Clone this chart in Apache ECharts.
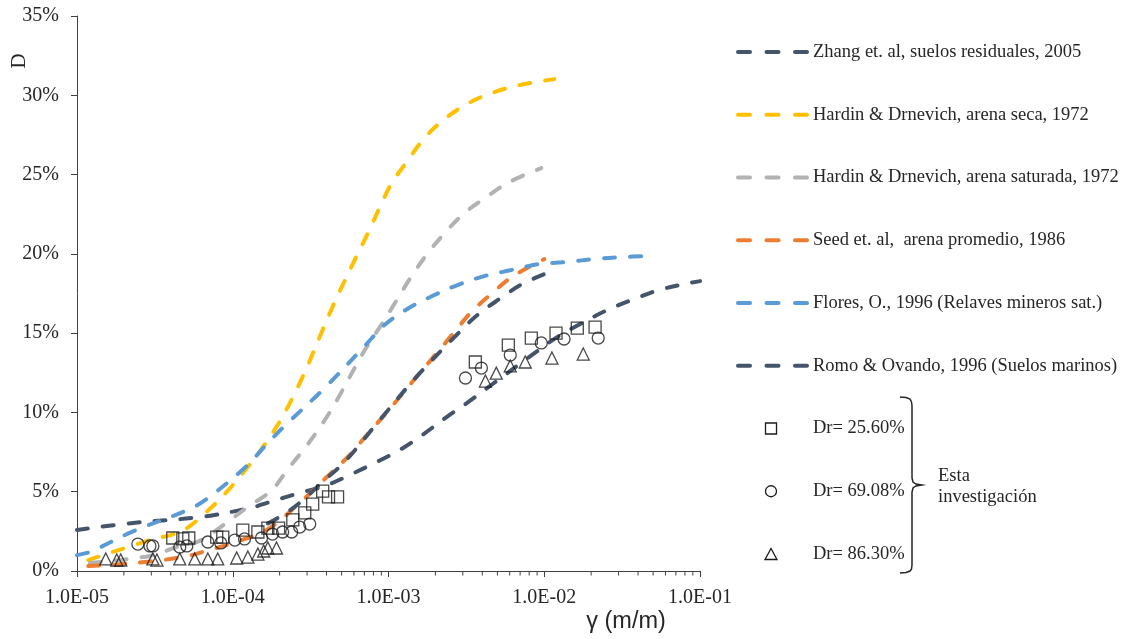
<!DOCTYPE html>
<html>
<head>
<meta charset="utf-8">
<script src="https://cdn.jsdelivr.net/npm/echarts@6/dist/echarts.min.js"></script>
<style>html,body{margin:0;padding:0;background:#fff}#c{width:1128px;height:639px}</style>
</head>
<body>
<div id="c"></div>
<script>
// ---- data (strain γ in m/m, damping D in %) ----
const zhangG = [1e-5, 2.29e-5, 6.14e-5, 1.29e-4, 1.73e-4, 2.69e-4, 3.89e-4, 5.62e-4, 8.13e-4, 1.18e-3, 1.65e-3, 2.36e-3, 3.26e-3, 4.57e-3, 8.02e-3, 1.21e-2, 1.75e-2, 2.54e-2, 3.78e-2, 5.46e-2, 8.50e-2, 1e-1];
const zhangD = [2.59, 3.03, 3.4, 3.97, 4.35, 4.92, 5.36, 6.05, 6.81, 7.63, 8.58, 9.71, 10.66, 11.73, 13.5, 14.75, 15.64, 16.46, 17.15, 17.72, 18.16, 18.28];

const secaG = [1.18e-5, 2.94e-5, 4.57e-5, 6.14e-5, 1.0e-4, 1.80e-4, 2.69e-4, 4.37e-4, 6.24e-4, 7.33e-4, 8.75e-4, 1.04e-3, 1.32e-3, 1.70e-3, 2.29e-3, 3.26e-3, 4.78e-3, 6.92e-3, 1.16e-2];
const secaD = [0.69, 1.95, 2.46, 3.34, 5.42, 8.70, 11.85, 16.65, 19.86, 21.25, 22.89, 24.4, 25.85, 27.3, 28.5, 29.5, 30.2, 30.64, 31.02];

const satG = [1.21e-5, 2.94e-5, 4.32e-5, 6.14e-5, 8.89e-5, 1.25e-4, 1.78e-4, 2.25e-4, 2.98e-4, 3.83e-4, 4.71e-4, 7.01e-4, 8.89e-4, 1.11e-3, 1.38e-3, 1.75e-3, 2.29e-3, 3.07e-3, 4.25e-3, 5.97e-3, 9.57e-3];
const satD = [0.5, 0.95, 1.5, 1.9, 2.96, 4.04, 5.1, 6.4, 7.9, 9.4, 10.85, 13.9, 15.45, 16.96, 18.47, 19.92, 21.3, 22.57, 23.58, 24.53, 25.41];

const seedG = [1.18e-5, 1.63e-5, 2.94e-5, 4.78e-5, 6.4e-5, 1.0e-4, 1.65e-4, 2.69e-4, 3.89e-4, 5.62e-4, 7.0e-4, 9.16e-4, 1.18e-3, 1.51e-3, 2.12e-3, 2.61e-3, 3.40e-3, 4.57e-3, 6.32e-3, 1.0e-2];
const seedD = [0.32, 0.38, 0.6, 0.88, 1.2, 1.77, 2.59, 4.29, 5.8, 7.3, 8.4, 9.7, 10.97, 12.23, 13.93, 15.0, 16.33, 17.47, 18.6, 19.67];

const floresG = [1e-5, 1.21e-5, 2.29e-5, 5.0e-5, 6.71e-5, 1.19e-4, 1.68e-4, 2.15e-4, 3.89e-4, 7.13e-4, 9.42e-4, 1.32e-3, 1.91e-3, 2.77e-3, 4.12e-3, 6.14e-3, 9.28e-3, 1.38e-2, 2.09e-2, 3.26e-2, 4.38e-2];
const floresD = [1.0, 1.2, 2.5, 3.8, 4.5, 6.5, 8.07, 9.14, 11.54, 14.25, 15.51, 16.52, 17.34, 18.03, 18.6, 18.98, 19.36, 19.48, 19.67, 19.8, 19.86];

const romoG = [1.68e-4, 2.15e-4, 2.69e-4, 3.89e-4, 5.22e-4, 8.89e-4, 1.53e-3, 2.73e-3, 3.72e-3, 5.15e-3, 7.23e-3, 1.08e-2];
const romoD = [3.0, 3.6, 4.3, 5.74, 6.87, 9.58, 12.3, 14.88, 16.14, 17.15, 18.1, 18.85];

const sqG = [4.12e-5, 4.78e-5, 5.22e-5, 7.89e-5, 8.63e-5, 1.16e-4, 1.45e-4, 1.68e-4, 1.97e-4, 2.43e-4, 2.90e-4, 3.26e-4, 3.78e-4, 4.12e-4, 4.71e-4, 3.61e-3, 5.88e-3, 8.26e-3, 1.19e-2, 1.63e-2, 2.12e-2];
const sqD = [2.08, 2.02, 2.08, 2.14, 2.14, 2.58, 2.46, 2.71, 2.71, 3.22, 3.66, 4.22, 5.04, 4.67, 4.67, 13.18, 14.25, 14.69, 15.0, 15.32, 15.38];

const ciG = [2.46e-5, 2.94e-5, 3.07e-5, 4.57e-5, 5.07e-5, 6.92e-5, 8.38e-5, 1.03e-4, 1.19e-4, 1.53e-4, 1.80e-4, 2.09e-4, 2.39e-4, 2.69e-4, 3.12e-4, 3.12e-3, 3.95e-3, 6.05e-3, 9.57e-3, 1.34e-2, 2.22e-2];
const ciD = [1.70, 1.58, 1.58, 1.51, 1.58, 1.83, 1.77, 1.95, 2.02, 2.08, 2.33, 2.46, 2.46, 2.77, 2.96, 12.17, 12.80, 13.62, 14.38, 14.63, 14.69];

const trG = [1.53e-5, 1.80e-5, 1.91e-5, 3.07e-5, 3.26e-5, 4.57e-5, 5.70e-5, 6.92e-5, 8.01e-5, 1.06e-4, 1.25e-4, 1.45e-4, 1.58e-4, 1.68e-4, 1.91e-4, 4.19e-3, 4.92e-3, 6.05e-3, 7.55e-3, 1.12e-2, 1.78e-2];
const trD = [0.76, 0.69, 0.69, 0.76, 0.69, 0.76, 0.76, 0.76, 0.76, 0.82, 0.88, 1.07, 1.26, 1.45, 1.45, 11.98, 12.48, 12.93, 13.18, 13.43, 13.68];

const xTickDecades = [1e-5, 1e-4, 1e-3, 1e-2];
const minorMultipliers = [2, 3, 4, 5, 6, 7, 8, 9];

const names = [
  'Zhang et. al, suelos residuales, 2005',
  'Hardin & Drnevich, arena seca, 1972',
  'Hardin & Drnevich, arena saturada, 1972',
  'Seed et. al,  arena promedio, 1986',
  'Flores, O., 1996 (Relaves mineros sat.)',
  'Romo & Ovando, 1996 (Suelos marinos)',
  'Dr= 25.60%',
  'Dr= 69.08%',
  'Dr= 86.30%'
];
const colors = ['#44546A', '#FFC000', '#B2B2B2', '#ED7D31', '#5B9BD5', '#44546A'];
const markerSymbols = ['rect', 'circle', 'triangle'];

// ---- build ----
const zip = (g, d) => g.map((v, i) => [v, d[i]]);
const minorTicks = [];
xTickDecades.forEach(d => minorMultipliers.forEach(m => minorTicks.push([m * d, 0])));

const SERIF = '"Liberation Serif", "Times New Roman", serif';
const AX = '#404040';
const TXT = '#262626';
const MK = '#1a1a1a';
const DASH = [11, 15];
const LW = 4;

function lineSeries(name, g, d, color) {
  return {
    name, type: 'line', data: zip(g, d), smooth: 0.35, showSymbol: false, symbol: 'none',
    lineStyle: { color, width: LW, type: DASH, cap: 'round' },
    itemStyle: { color }, z: 3, silent: true
  };
}
function scatterSeries(name, g, d, symbol, size) {
  return {
    name, type: 'scatter', data: zip(g, d), symbol, symbolSize: size,
    itemStyle: { color: 'rgba(255,255,255,0)', borderColor: MK, borderWidth: 1.3 },
    z: 4, silent: true
  };
}
const fmtX = v => {
  const e = Math.round(Math.log10(v));
  return '1.0E' + (e < 0 ? '-' : '+') + String(Math.abs(e)).padStart(2, '0');
};

// legend built as graphic (key layout)
const legendX = 736, legendTextX = 813, legendTop = 52, legendStep = 62.75;
const legendGraphics = [];
names.forEach((nm, i) => {
  const cy = legendTop + i * legendStep;
  if (i < 6) {
    [0, 28.5, 57].forEach(off => legendGraphics.push({
      type: 'line', silent: true,
      shape: { x1: legendX + 2 + off, y1: cy, x2: legendX + 14 + off, y2: cy },
      style: { stroke: colors[i], lineWidth: LW, lineCap: 'round' }
    }));
  } else {
    const sym = markerSymbols[i - 6], cx = 771;
    let el;
    if (sym === 'rect') el = { type: 'rect', shape: { x: cx - 5.5, y: cy - 5.5, width: 11, height: 11 } };
    else if (sym === 'circle') el = { type: 'circle', shape: { cx, cy, r: 5.5 } };
    else el = { type: 'polygon', shape: { points: [[cx, cy - 5.5], [cx + 6, cy + 5.5], [cx - 6, cy + 5.5]] } };
    el.style = { stroke: MK, lineWidth: 1.3, fill: null };
    el.silent = true;
    legendGraphics.push(el);
  }
  legendGraphics.push({
    type: 'text', x: legendTextX, y: cy, silent: true,
    style: { text: nm, font: '18.5px ' + SERIF, fill: TXT, align: 'left', verticalAlign: 'middle' }
  });
});

const chart = echarts.init(document.getElementById('c'), null, { renderer: 'canvas' });
chart.setOption({
  animation: false,
  backgroundColor: '#fff',
  grid: { left: 77, right: 428, top: 16, bottom: 68 },
  xAxis: {
    type: 'log', logBase: 10, min: 1e-5, max: 1e-1,
    axisLine: { show: true, lineStyle: { color: AX, width: 1 } },
    axisTick: { show: true, length: 6, inside: false, lineStyle: { color: AX } },
    splitLine: { show: false },
    axisLabel: { formatter: fmtX, fontFamily: SERIF, fontSize: 20, color: TXT, margin: 17 }
  },
  yAxis: {
    type: 'value', min: 0, max: 35, interval: 5,
    axisLine: { show: true, lineStyle: { color: AX, width: 1 } },
    axisTick: { show: true, length: 6, inside: false, lineStyle: { color: AX } },
    splitLine: { show: false },
    axisLabel: { formatter: '{value}%', fontFamily: SERIF, fontSize: 20, color: TXT, margin: 18 }
  },
  series: [
    lineSeries(names[0], zhangG, zhangD, colors[0]),
    lineSeries(names[1], secaG, secaD, colors[1]),
    lineSeries(names[2], satG, satD, colors[2]),
    lineSeries(names[3], seedG, seedD, colors[3]),
    lineSeries(names[4], floresG, floresD, colors[4]),
    lineSeries(names[5], romoG, romoD, colors[5]),
    scatterSeries(names[6], sqG, sqD, 'rect', 12),
    scatterSeries(names[7], ciG, ciD, 'circle', 12),
    scatterSeries(names[8], trG, trD, 'triangle', 12),
    {
      name: 'minor', type: 'custom', data: minorTicks, silent: true, clip: false, z: 5,
      renderItem: (params, api) => {
        const p = api.coord([api.value(0), 0]);
        return { type: 'line', shape: { x1: p[0], y1: p[1], x2: p[0], y2: p[1] + 4.5 },
                 style: { stroke: AX, lineWidth: 1 } };
      }
    }
  ],
  graphic: [
    { type: 'text', x: 19, y: 61, rotation: Math.PI / 2,
      style: { text: 'D', font: '21px ' + SERIF, fill: TXT, align: 'center', verticalAlign: 'middle' } },
    { type: 'text', x: 626, y: 622,
      style: { text: 'γ (m/m)', font: '23.5px "Liberation Sans", Arial, sans-serif', fill: TXT, align: 'center', verticalAlign: 'middle' } },
    { type: 'polyline',
      shape: { points: [[900, 397], [906, 397.5], [910, 399], [911.5, 402], [912, 406], [912, 478], [913, 482], [916, 484], [922, 485], [916, 486], [913, 488], [912, 492], [912, 565], [911.5, 569], [910, 571], [906, 572.5], [900, 573]] },
      style: { stroke: TXT, lineWidth: 1.5, fill: null } },
    { type: 'text', x: 938, y: 487,
      style: { text: 'Esta\ninvestigación', font: '18.5px ' + SERIF, lineHeight: 21, fill: TXT, align: 'left', verticalAlign: 'middle' } }
  ].concat(legendGraphics)
});
</script>
</body>
</html>
